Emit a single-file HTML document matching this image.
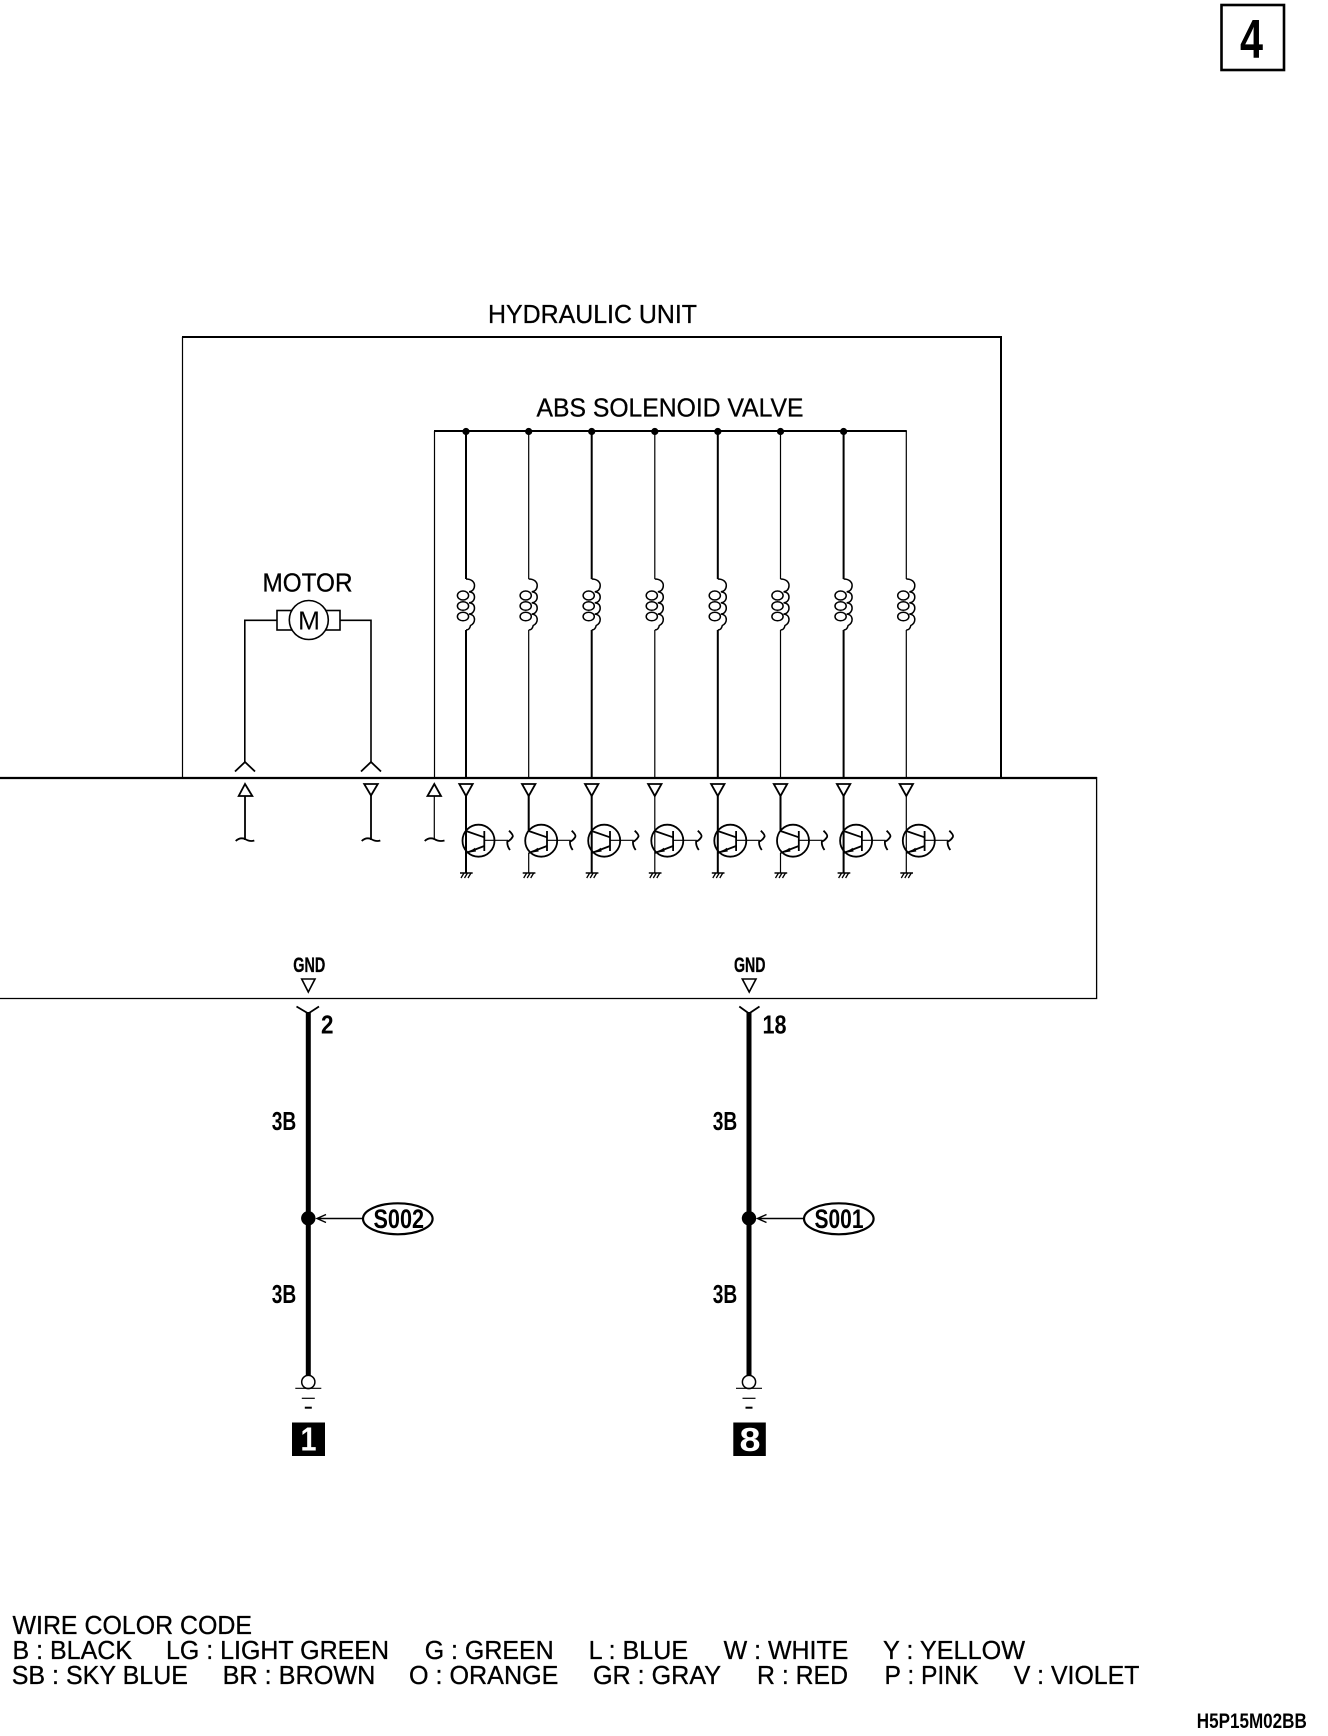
<!DOCTYPE html>
<html>
<head>
<meta charset="utf-8">
<style>
html,body{margin:0;padding:0;background:#fff;width:1328px;height:1736px;overflow:hidden}
svg{display:block}
text{font-family:"Liberation Sans",sans-serif;fill:#000}
.n{stroke:#000;stroke-width:.3}
.b{font-weight:bold}
</style>
</head>
<body>
<svg width="1328" height="1736" viewBox="0 0 1328 1736" xmlns="http://www.w3.org/2000/svg">
<defs>
<g id="loops" fill="none" stroke="#000" stroke-width="1.5">
<path d="M0 579C5 579 8.5 581.5 8.5 585.5C8.5 589 6.5 591.7 3 591.7C6.5 592 8.5 594 8.5 597C8.5 600 6.5 602.7 3 602.7C6.5 603 8.5 605 8.5 608C8.5 611 6.5 614 3 614C6.5 614.3 8.5 616.5 8.5 619.5C8.5 622.5 6.5 624.5 4.5 625.5C4 628 2.5 630 0 630"/>
<ellipse cx="-3" cy="595.5" rx="5.6" ry="4.5"/>
<ellipse cx="-3" cy="606" rx="5.6" ry="4.3"/>
<ellipse cx="-3" cy="616.5" rx="5.6" ry="4.3"/>
</g>
<g id="tr" fill="none" stroke="#000" stroke-width="1.8">
<polygon points="-6.7,784 6.7,784 0,796" fill="#fff"/>
<circle cx="12.5" cy="840.7" r="16"/>
<path d="M18.3 831V851"/>
<path d="M0 831L18.3 837.3M18.3 846L0 853"/>
<path d="M18.3 840.3H42" stroke-width="1.2"/>
<polygon points="2,852.8 9,847.8 10,851.5" fill="#000" stroke="none"/>
<path d="M43 830.7Q47.5 835 46.7 836.7Q45 840 41.3 841.7Q41 846 44 850"/>
<path d="M-6 873H6.7" stroke-width="1.5"/>
<path d="M-2 873L-5 878M1.5 873L-1.5 878M5 873L2 878" stroke-width="1.3"/>
</g>
<g id="gnd" fill="none" stroke="#000">
<circle cx="0" cy="1382" r="6.6" fill="#fff" stroke-width="1.5"/>
<path d="M-13 1388.3H13" stroke-width="1.2"/>
<path d="M-6.5 1398.3H6.5" stroke-width="1.2"/>
<path d="M-3.5 1407.7H3.5" stroke-width="2"/>
</g>
</defs>

<!-- page marker -->
<rect x="1221.5" y="5" width="62.5" height="65" fill="none" stroke="#000" stroke-width="2.6"/>
<text x="1240" y="57.5" class="b" font-size="55" textLength="23" lengthAdjust="spacingAndGlyphs">4</text>

<!-- Hydraulic unit frame -->
<text x="488" y="323" class="n" font-size="25.5" textLength="209" lengthAdjust="spacingAndGlyphs">HYDRAULIC UNIT</text>
<path d="M182.5 778V337" stroke="#000" stroke-width="1.2" fill="none"/>
<path d="M182 337H1001V778" stroke="#000" stroke-width="2" fill="none"/>

<text x="536.5" y="416.7" class="n" font-size="25.5" textLength="267" lengthAdjust="spacingAndGlyphs">ABS SOLENOID VALVE</text>
<path d="M434.5 778V431" stroke="#000" stroke-width="1.2" fill="none"/>
<path d="M434 431H906.8" stroke="#000" stroke-width="2" fill="none"/>

<!-- solenoids -->
<g fill="none" stroke="#000">
<path d="M466 431V579M466 630V778M591.7 431V579M591.7 630V778M717.8 431V579M717.8 630V778M843.6 431V579M843.6 630V778" stroke-width="2"/>
<path d="M528.7 431V579M528.7 630V778M654.8 431V579M654.8 630V778M780.5 431V579M780.5 630V778M906.3 431V579M906.3 630V778" stroke-width="1.2"/>
</g>
<use href="#loops" x="466"/>
<use href="#loops" x="528.7"/>
<use href="#loops" x="591.7"/>
<use href="#loops" x="654.8"/>
<use href="#loops" x="717.8"/>
<use href="#loops" x="780.5"/>
<use href="#loops" x="843.6"/>
<use href="#loops" x="906.3"/>
<g fill="#000">
<circle cx="466" cy="431.5" r="3.6"/><circle cx="528.7" cy="431.5" r="3.6"/><circle cx="591.7" cy="431.5" r="3.6"/><circle cx="654.8" cy="431.5" r="3.6"/><circle cx="717.8" cy="431.5" r="3.6"/><circle cx="780.5" cy="431.5" r="3.6"/><circle cx="843.6" cy="431.5" r="3.6"/>
</g>

<!-- motor -->
<text x="262.5" y="591.5" class="n" font-size="25.5" textLength="90" lengthAdjust="spacingAndGlyphs">MOTOR</text>
<rect x="277" y="610.5" width="63" height="19.5" fill="none" stroke="#000" stroke-width="1.6"/>
<circle cx="308.8" cy="620" r="19.5" fill="#fff" stroke="#000" stroke-width="1.6"/>
<text x="298" y="629.5" font-size="26" textLength="22" lengthAdjust="spacingAndGlyphs">M</text>
<path d="M277 620.3H244.8V762M340 620.3H371V762" fill="none" stroke="#000" stroke-width="1.6"/>
<path d="M235 771.5L245 762L255 771.5M361 771.5L371 762L381 771.5" fill="none" stroke="#000" stroke-width="1.8"/>

<!-- ECU module -->
<path d="M0 778H1097" stroke="#000" stroke-width="2.2" fill="none"/>
<path d="M1096.6 777V998.5H0" stroke="#000" stroke-width="1.3" fill="none"/>

<g fill="none" stroke="#000" stroke-width="1.8">
<polygon points="245,784 238.7,796 252.3,796"/>
<path d="M245 796V840"/>
<path d="M235.7 841Q240 837 245 839Q250 842 254.3 840.5"/>
<polygon points="364.2,784 377.8,784 371,795.5"/>
<path d="M371 795.5V840"/>
<path d="M361.7 841Q366 837 371 839Q376 842 380.3 840.5"/>
<polygon points="434.3,784 427.5,796 441,796" />
<path d="M434.3 796V840" stroke-width="1.2"/>
<path d="M424.7 841Q429 837 434.3 839Q439 842 444.5 840.5"/>
</g>

<!-- transistors -->
<g stroke="#000" fill="none">
<path d="M466 796V873M591.7 796V873M717.8 796V873M843.6 796V873" stroke-width="2"/>
<path d="M528.7 796V831M780.5 796V831" stroke-width="2"/>
<path d="M654.8 796V873M906.3 796V873M528.7 853V873M780.5 853V873" stroke-width="1.2"/>
</g>
<use href="#tr" x="466"/>
<use href="#tr" x="528.7"/>
<use href="#tr" x="591.7"/>
<use href="#tr" x="654.8"/>
<use href="#tr" x="717.8"/>
<use href="#tr" x="780.5"/>
<use href="#tr" x="843.6"/>
<use href="#tr" x="906.3"/>

<!-- GND left -->
<text x="293.3" y="972" class="b n" font-size="21" textLength="32" lengthAdjust="spacingAndGlyphs">GND</text>
<polygon points="301.7,979 315,979 308.3,992" fill="none" stroke="#000" stroke-width="1.6"/>
<path d="M296.5 1006.5L308.3 1013.5L319 1006.5" fill="none" stroke="#000" stroke-width="1.8"/>
<path d="M308.3 1012V1380" stroke="#000" stroke-width="5" fill="none"/>
<text x="321" y="1033.5" class="b" font-size="26" textLength="12.5" lengthAdjust="spacingAndGlyphs">2</text>
<text x="271.7" y="1130" class="b" font-size="26" textLength="24.5" lengthAdjust="spacingAndGlyphs">3B</text>
<text x="271.7" y="1303" class="b" font-size="26" textLength="24.5" lengthAdjust="spacingAndGlyphs">3B</text>
<circle cx="308.3" cy="1218.3" r="7.2" fill="#000"/>
<path d="M362 1218.5H317M326 1214.5L317 1218.5L326 1222.5" fill="none" stroke="#000" stroke-width="1.4"/>
<ellipse cx="397.8" cy="1218.8" rx="34.8" ry="15.5" fill="#fff" stroke="#000" stroke-width="2.2"/>
<text x="373.5" y="1228" class="b" font-size="27" textLength="50.5" lengthAdjust="spacingAndGlyphs">S002</text>
<use href="#gnd" x="308.3"/>
<rect x="292" y="1422.5" width="33" height="33.5" fill="#000"/>
<text x="300.5" y="1450.5" class="b" font-size="33" textLength="16" lengthAdjust="spacingAndGlyphs" style="fill:#fff">1</text>

<!-- GND right -->
<text x="734" y="972" class="b n" font-size="21" textLength="31.5" lengthAdjust="spacingAndGlyphs">GND</text>
<polygon points="742.3,979 756,979 749.2,992" fill="none" stroke="#000" stroke-width="1.6"/>
<path d="M739.3 1006.5L749 1013.5L759.5 1006.5" fill="none" stroke="#000" stroke-width="1.8"/>
<path d="M749 1012V1380" stroke="#000" stroke-width="5" fill="none"/>
<text x="762.5" y="1033.5" class="b" font-size="26" textLength="24" lengthAdjust="spacingAndGlyphs">18</text>
<text x="712.7" y="1130" class="b" font-size="26" textLength="24.5" lengthAdjust="spacingAndGlyphs">3B</text>
<text x="712.7" y="1303" class="b" font-size="26" textLength="24.5" lengthAdjust="spacingAndGlyphs">3B</text>
<circle cx="749" cy="1218.3" r="7.2" fill="#000"/>
<path d="M803 1218.5H757.5M766.5 1214.5L757.5 1218.5L766.5 1222.5" fill="none" stroke="#000" stroke-width="1.4"/>
<ellipse cx="838.8" cy="1218.8" rx="34.8" ry="15.5" fill="#fff" stroke="#000" stroke-width="2.2"/>
<text x="814.5" y="1228" class="b" font-size="27" textLength="49" lengthAdjust="spacingAndGlyphs">S001</text>
<use href="#gnd" x="749"/>
<rect x="733.3" y="1422.5" width="32.5" height="33.5" fill="#000"/>
<text x="739.5" y="1451" class="b" font-size="33" textLength="21" lengthAdjust="spacingAndGlyphs" style="fill:#fff">8</text>

<!-- legend -->
<g font-size="25.5" class="n">
<text x="12.5" y="1634" class="n" textLength="239.5" lengthAdjust="spacingAndGlyphs">WIRE COLOR CODE</text>
<text x="12.5" y="1659" class="n" textLength="119.5" lengthAdjust="spacingAndGlyphs">B : BLACK</text>
<text x="166" y="1659" class="n" textLength="223" lengthAdjust="spacingAndGlyphs">LG : LIGHT GREEN</text>
<text x="424.7" y="1659" class="n" textLength="129" lengthAdjust="spacingAndGlyphs">G : GREEN</text>
<text x="588.6" y="1659" class="n" textLength="99.5" lengthAdjust="spacingAndGlyphs">L : BLUE</text>
<text x="723.6" y="1659" class="n" textLength="124.8" lengthAdjust="spacingAndGlyphs">W : WHITE</text>
<text x="883" y="1659" class="n" textLength="142" lengthAdjust="spacingAndGlyphs">Y : YELLOW</text>
<text x="11.7" y="1684" class="n" textLength="176.3" lengthAdjust="spacingAndGlyphs">SB : SKY BLUE</text>
<text x="222.6" y="1684" class="n" textLength="152.8" lengthAdjust="spacingAndGlyphs">BR : BROWN</text>
<text x="409" y="1684" class="n" textLength="149.4" lengthAdjust="spacingAndGlyphs">O : ORANGE</text>
<text x="593" y="1684" class="n" textLength="128" lengthAdjust="spacingAndGlyphs">GR : GRAY</text>
<text x="757" y="1684" class="n" textLength="91" lengthAdjust="spacingAndGlyphs">R : RED</text>
<text x="884.5" y="1684" class="n" textLength="94" lengthAdjust="spacingAndGlyphs">P : PINK</text>
<text x="1013.7" y="1684" class="n" textLength="125.7" lengthAdjust="spacingAndGlyphs">V : VIOLET</text>
</g>
<text x="1196.8" y="1728" class="b" font-size="21.5" textLength="110" lengthAdjust="spacingAndGlyphs">H5P15M02BB</text>
</svg>
</body>
</html>
